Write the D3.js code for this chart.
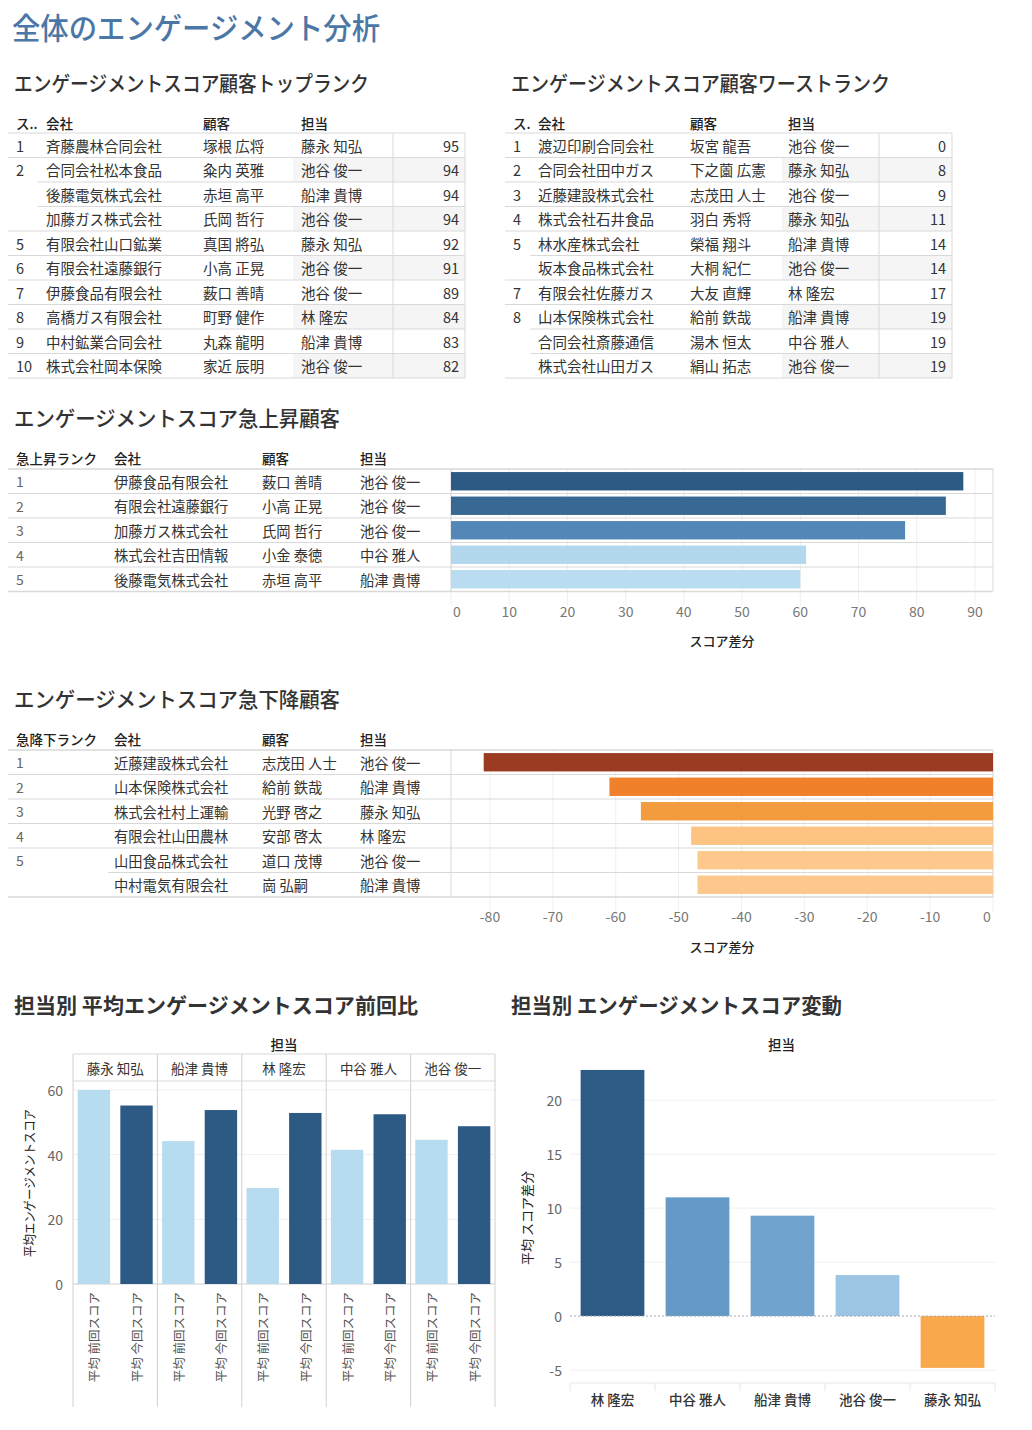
<!DOCTYPE html>
<html>
<head>
<meta charset="utf-8">
<script src="https://d3js.org/d3.v7.min.js"></script>
<style>
  body { margin: 0; background: #fff; }
  svg text { font-family: "Noto Sans CJK JP", "Noto Sans", sans-serif; }
</style>
</head>
<body>
<script>
// --- top ranking table
var topRank = [1, 2, 2, 2, 5, 6, 7, 8, 9, 10];
var topCompany = ["斉藤農林合同会社", "合同会社松本食品", "後藤電気株式会社", "加藤ガス株式会社", "有限会社山口鉱業",
                  "有限会社遠藤銀行", "伊藤食品有限会社", "高橋ガス有限会社", "中村鉱業合同会社", "株式会社岡本保険"];
var topCustomer = ["塚根 広将", "粂内 英雅", "赤垣 高平", "氏岡 哲行", "真国 將弘", "小高 正晃", "薮口 善晴", "町野 健作", "丸森 龍明", "家近 辰明"];
var topRep = ["藤永 知弘", "池谷 俊一", "船津 貴博", "池谷 俊一", "藤永 知弘", "池谷 俊一", "池谷 俊一", "林 隆宏", "船津 貴博", "池谷 俊一"];
var topScore = [95, 94, 94, 94, 92, 91, 89, 84, 83, 82];

// --- worst ranking table
var worstRank = [1, 2, 3, 4, 5, 5, 7, 8, 8, 8];
var worstCompany = ["渡辺印刷合同会社", "合同会社田中ガス", "近藤建設株式会社", "株式会社石井食品", "林水産株式会社",
                    "坂本食品株式会社", "有限会社佐藤ガス", "山本保険株式会社", "合同会社斎藤通信", "株式会社山田ガス"];
var worstCustomer = ["坂宮 龍吾", "下之薗 広憲", "志茂田 人士", "羽白 秀将", "榮福 翔斗", "大桐 紀仁", "大友 直輝", "給前 鉄哉", "湯木 恒太", "絹山 拓志"];
var worstRep = ["池谷 俊一", "藤永 知弘", "池谷 俊一", "藤永 知弘", "船津 貴博", "池谷 俊一", "林 隆宏", "船津 貴博", "中谷 雅人", "池谷 俊一"];
var worstScore = [0, 8, 9, 11, 14, 14, 17, 19, 19, 19];

// --- sharp rise
var riseRank = [1, 2, 3, 4, 5];
var riseCompany = ["伊藤食品有限会社", "有限会社遠藤銀行", "加藤ガス株式会社", "株式会社吉田情報", "後藤電気株式会社"];
var riseCustomer = ["薮口 善晴", "小高 正晃", "氏岡 哲行", "小金 泰徳", "赤垣 高平"];
var riseRep = ["池谷 俊一", "池谷 俊一", "池谷 俊一", "中谷 雅人", "船津 貴博"];
var riseDiff = [88, 85, 78, 61, 60];
var riseTicks = [0, 10, 20, 30, 40, 50, 60, 70, 80, 90];

// --- sharp fall
var fallRank = [1, 2, 3, 4, 5, 5];
var fallCompany = ["近藤建設株式会社", "山本保険株式会社", "株式会社村上運輸", "有限会社山田農林", "山田食品株式会社", "中村電気有限会社"];
var fallCustomer = ["志茂田 人士", "給前 鉄哉", "光野 啓之", "安部 啓太", "道口 茂博", "崗 弘嗣"];
var fallRep = ["池谷 俊一", "船津 貴博", "藤永 知弘", "林 隆宏", "池谷 俊一", "船津 貴博"];
var fallDiff = [-81, -61, -56, -48, -47, -47];
var fallTicks = [-80, -70, -60, -50, -40, -30, -20, -10, 0];

// --- by rep
var reps = ["藤永 知弘", "船津 貴博", "林 隆宏", "中谷 雅人", "池谷 俊一"];
var measures = ["平均 前回スコア", "平均 今回スコア"];
var prevAvg = [60.0, 44.2, 29.7, 41.5, 44.6];
var currAvg = [55.2, 53.8, 52.9, 52.5, 48.8];
var avgTicks = [0, 20, 40, 60];

var diffReps = ["林 隆宏", "中谷 雅人", "船津 貴博", "池谷 俊一", "藤永 知弘"];
var diffAvg = [22.8, 11.0, 9.3, 3.8, -4.8];
var diffTicks = [-5, 0, 5, 10, 15, 20];

var W = 1032, H = 1430;
var line = "#d9d9d9", grid = "#efefef", txt = "#333", tick = "#777";

var svg = d3.select("body").append("svg")
  .attr("width", W).attr("height", H)
  .style("display", "block");
svg.append("rect").attr("width", W).attr("height", H).attr("fill", "#fff");

function label(g, x, y, s, o) {
  o = o || {};
  var t = g.append("text")
    .attr("x", x).attr("y", y)
    .attr("dominant-baseline", "central")
    .attr("font-size", o.size || 14)
    .attr("fill", o.fill || txt)
    .attr("text-anchor", o.anchor || "start")
    .attr("font-weight", o.weight || "normal")
    .text(s);
  if (o.len) t.attr("textLength", o.len).attr("lengthAdjust", "spacingAndGlyphs");
  return t;
}

// titles
label(svg, 12, 26, "全体のエンゲージメント分析", {size: 30, fill: "#4b77a6", len: 368, weight: 500});
label(svg, 14, 82, "エンゲージメントスコア顧客トップランク", {size: 21, len: 355, weight: 500});
label(svg, 511, 82, "エンゲージメントスコア顧客ワーストランク", {size: 21, len: 379, weight: 500});
label(svg, 14, 417, "エンゲージメントスコア急上昇顧客", {size: 21, len: 326, weight: 500});
label(svg, 14, 698, "エンゲージメントスコア急下降顧客", {size: 21, len: 326, weight: 500});
label(svg, 14, 1004, "担当別 平均エンゲージメントスコア前回比", {size: 21, len: 404, weight: "bold"});
label(svg, 511, 1004, "担当別 エンゲージメントスコア変動", {size: 21, len: 331, weight: "bold"});

// ---------- ranking tables ----------
function rankTable(o) {
  var g = svg.append("g");
  var n = o.rank.length, rowH = 24.5, top = 133;
  var y = d3.scaleBand().domain(d3.range(n)).range([top, top + n * rowH]);
  var hdr = [o.rankHead, "会社", "顧客", "担当"];
  hdr.forEach(function(h, j) { label(g, o.cols[j], 123, h, {size: 13.5, fill: "#222", weight: 500}); });

  g.selectAll(".shade").data(d3.range(n).filter(function(i) { return i % 2 === 1; }))
    .enter().append("rect")
    .attr("x", o.shadeX).attr("width", o.pane[1] - o.shadeX)
    .attr("y", function(i) { return y(i); }).attr("height", rowH)
    .attr("fill", "#f5f5f5");

  d3.range(n + 1).forEach(function(i) {
    var tie = i > 0 && i < n && o.rank[i] === o.rank[i - 1];
    var yy = top + i * rowH;
    g.append("line")
      .attr("x1", tie ? o.tieX : o.left).attr("x2", o.pane[1])
      .attr("y1", yy).attr("y2", yy)
      .attr("stroke", line);
  });
  [o.pane[0], o.pane[1]].forEach(function(px) {
    g.append("line").attr("x1", px).attr("x2", px)
      .attr("y1", top).attr("y2", top + n * rowH).attr("stroke", line);
  });

  d3.range(n).forEach(function(i) {
    var cy = y(i) + rowH / 2;
    if (i === 0 || o.rank[i] !== o.rank[i - 1]) label(g, o.cols[0], cy, o.rank[i], {size: 14.5});
    label(g, o.cols[1], cy, o.company[i], {size: 14.5});
    label(g, o.cols[2], cy, o.customer[i], {size: 14.5});
    label(g, o.cols[3], cy, o.rep[i], {size: 14.5});
    label(g, o.pane[1] - 6, cy, o.score[i], {size: 14.5, anchor: "end"});
  });
}

rankTable({rankHead: "ス..", left: 8, cols: [16, 46, 203, 301], shadeX: 293, pane: [393, 465], tieX: 38,
  rank: topRank, company: topCompany, customer: topCustomer, rep: topRep, score: topScore});
rankTable({rankHead: "ス.", left: 505, cols: [513, 538, 690, 788], shadeX: 782, pane: [879, 952], tieX: 530,
  rank: worstRank, company: worstCompany, customer: worstCustomer, rep: worstRep, score: worstScore});

// ---------- bar tables ----------
function barTable(o) {
  var g = svg.append("g");
  var n = o.rank.length, rowH = 24.5, top = o.top, bottom = top + n * rowH;
  var px0 = 451, px1 = 993;
  var y = d3.scaleBand().domain(d3.range(n)).range([top, bottom]).paddingInner(0.25).paddingOuter(0.125);
  var x = d3.scaleLinear().domain(o.domain).range([px0, px1]);

  [o.rankHead, "会社", "顧客", "担当"].forEach(function(h, j) {
    label(g, [16, 114, 262, 360][j], top - 11, h, {size: 13.5, fill: "#222", weight: 500});
  });

  // grid
  g.selectAll(".gx").data(o.ticks).enter().append("line")
    .attr("x1", function(d) { return x(d); }).attr("x2", function(d) { return x(d); })
    .attr("y1", top).attr("y2", bottom + 14).attr("stroke", grid);

  d3.range(n + 1).forEach(function(i) {
    var tie = i > 0 && i < n && o.rank[i] === o.rank[i - 1];
    var yy = top + i * rowH;
    g.append("line")
      .attr("x1", tie ? 108 : 8).attr("x2", px1)
      .attr("y1", yy).attr("y2", yy)
      .attr("stroke", line).attr("stroke-width", i === 0 || i === n ? 1.5 : 1);
  });
  [px0, px1].forEach(function(px) {
    g.append("line").attr("x1", px).attr("x2", px).attr("y1", top).attr("y2", bottom).attr("stroke", line);
  });

  g.selectAll(".bar").data(o.values).enter().append("rect")
    .attr("x", function(d) { return Math.min(x(0), x(d)); })
    .attr("width", function(d) { return Math.abs(x(d) - x(0)); })
    .attr("y", function(d, i) { return y(i); })
    .attr("height", y.bandwidth())
    .attr("fill", function(d) { return o.color(d); });

  d3.range(n).forEach(function(i) {
    var cy = y(i) + y.bandwidth() / 2;
    if (i === 0 || o.rank[i] !== o.rank[i - 1]) label(g, 16, cy, o.rank[i], {size: 14, fill: "#666"});
    label(g, 114, cy, o.company[i], {size: 14.3});
    label(g, 262, cy, o.customer[i], {size: 14.3});
    label(g, 360, cy, o.rep[i], {size: 14.3});
  });

  g.selectAll(".tl").data(o.ticks).enter().append("text")
    .attr("x", function(d) {
      var p = x(d);
      if (p < px0 + 6) return p + 6;
      if (p > px1 - 6) return p - 6;
      return p;
    })
    .attr("y", bottom + 19)
    .attr("dominant-baseline", "central")
    .attr("text-anchor", "middle")
    .attr("font-size", 14).attr("fill", tick)
    .text(function(d) { return d; });

  label(g, (px0 + px1) / 2, bottom + 49, "スコア差分", {size: 13, anchor: "middle", fill: "#222", weight: 500});
}

barTable({rankHead: "急上昇ランク", top: 469, domain: [0, 93.1], ticks: riseTicks,
  rank: riseRank, company: riseCompany, customer: riseCustomer, rep: riseRep, values: riseDiff,
  color: d3.scaleLinear().domain([60, 78, 88]).range(["#b9dcf0", "#5387b7", "#2c5a85"])});
barTable({rankHead: "急降下ランク", top: 750, domain: [-86.2, 0], ticks: fallTicks,
  rank: fallRank, company: fallCompany, customer: fallCustomer, rep: fallRep, values: fallDiff,
  color: d3.scaleLinear().domain([-81, -61, -56, -47]).range(["#9b3c22", "#f0802a", "#f39c3d", "#fdc88b"])});

// ---------- avg by rep (prev vs current) ----------
(function() {
  var g = svg.append("g");
  var px0 = 73, px1 = 495, hTop = 1054, hBot = 1081, base = 1284, bot = 1407;
  var panel = d3.scaleBand().domain(reps).range([px0, px1]);
  var inner = d3.scaleBand().domain(measures).range([0, panel.bandwidth()]).paddingInner(0.24).paddingOuter(0.11);
  var y = d3.scaleLinear().domain([0, 60]).range([base, 1090]);
  var color = d3.scaleOrdinal().domain(measures).range(["#b7dcef", "#2c5a85"]);

  label(g, (px0 + px1) / 2, 1044, "担当", {size: 13.5, anchor: "middle", fill: "#222", weight: 500});
  label(g, 28, 1183, "平均エンゲージメントスコア", {size: 13, anchor: "middle", fill: "#222", len: 148})
    .attr("transform", "rotate(-90,28,1183)");

  g.selectAll(".gy").data(avgTicks).enter().append("line")
    .attr("x1", px0).attr("x2", px1)
    .attr("y1", function(d) { return y(d); }).attr("y2", function(d) { return y(d); })
    .attr("stroke", function(d) { return d === 0 ? "#cfcfcf" : grid; });
  g.selectAll(".ty").data(avgTicks).enter().append("text")
    .attr("x", 63).attr("y", function(d) { return y(d); })
    .attr("dominant-baseline", "central").attr("text-anchor", "end")
    .attr("font-size", 14).attr("fill", "#666")
    .text(function(d) { return d; });

  [hTop, hBot].forEach(function(yy) {
    g.append("line").attr("x1", px0).attr("x2", px1).attr("y1", yy).attr("y2", yy).attr("stroke", line);
  });
  reps.concat([null]).forEach(function(r) {
    var xx = r === null ? px1 : panel(r);
    g.append("line").attr("x1", xx).attr("x2", xx).attr("y1", hTop).attr("y2", bot).attr("stroke", "#d0d0d0");
  });

  reps.forEach(function(r, i) {
    label(g, panel(r) + panel.bandwidth() / 2, (hTop + hBot) / 2, r, {size: 13.5, anchor: "middle", fill: "#333"});
    [prevAvg[i], currAvg[i]].forEach(function(v, k) {
      var m = measures[k];
      g.append("rect")
        .attr("x", panel(r) + inner(m)).attr("width", inner.bandwidth())
        .attr("y", y(v)).attr("height", base - y(v))
        .attr("fill", color(m));
      var cx = panel(r) + inner(m) + inner.bandwidth() / 2;
      g.append("text")
        .attr("x", cx).attr("y", 1292)
        .attr("transform", "rotate(-90," + cx + ",1292)")
        .attr("dominant-baseline", "central").attr("text-anchor", "end")
        .attr("font-size", 12.5).attr("fill", "#555")
        .text(m);
    });
  });
})();

// ---------- avg diff by rep ----------
(function() {
  var g = svg.append("g");
  var px0 = 570, px1 = 995;
  var x = d3.scaleBand().domain(diffReps).range([px0, px1]).paddingInner(0.25).paddingOuter(0.125);
  var y = d3.scaleLinear().domain([-6.2, 24]).range([1383, 1057]);
  var color = function(v) {
    return v < 0 ? "#f9a94c" : d3.scaleLinear().domain([0, 10, 23]).range(["#b9dcf0", "#6a9fcb", "#2c5a85"])(v);
  };

  label(g, (px0 + px1) / 2 - 1, 1044, "担当", {size: 13.5, anchor: "middle", fill: "#222", weight: 500});
  label(g, 526, 1218, "平均 スコア差分", {size: 13, anchor: "middle", fill: "#222"})
    .attr("transform", "rotate(-90,526,1218)");

  g.selectAll(".gy").data(diffTicks.filter(function(d) { return d !== 0; })).enter().append("line")
    .attr("x1", px0).attr("x2", px1)
    .attr("y1", function(d) { return y(d); }).attr("y2", function(d) { return y(d); })
    .attr("stroke", grid);
  g.selectAll(".ty").data(diffTicks).enter().append("text")
    .attr("x", 562).attr("y", function(d) { return y(d); })
    .attr("dominant-baseline", "central").attr("text-anchor", "end")
    .attr("font-size", 14).attr("fill", "#666")
    .text(function(d) { return d; });

  g.append("line").attr("x1", px0).attr("x2", px1).attr("y1", 1383).attr("y2", 1383).attr("stroke", "#e8e8e8");
  d3.range(diffReps.length + 1).forEach(function(i) {
    var xx = px0 + i * x.step();
    g.append("line").attr("x1", xx).attr("x2", xx).attr("y1", 1383).attr("y2", 1391).attr("stroke", "#e8e8e8");
  });

  g.selectAll(".bar").data(diffAvg).enter().append("rect")
    .attr("x", function(d, i) { return x(diffReps[i]); })
    .attr("width", x.bandwidth())
    .attr("y", function(d) { return y(Math.max(0, d)); })
    .attr("height", function(d) { return Math.abs(y(d) - y(0)); })
    .attr("fill", function(d) { return color(d); });

  g.append("line").attr("x1", px0).attr("x2", px1).attr("y1", y(0)).attr("y2", y(0))
    .attr("stroke", "#aaa").attr("stroke-dasharray", "2,2");

  diffReps.forEach(function(r) {
    label(g, x(r) + x.bandwidth() / 2, 1399, r, {size: 13.5, anchor: "middle", fill: "#333", weight: 500});
  });
})();
</script>
</body>
</html>
